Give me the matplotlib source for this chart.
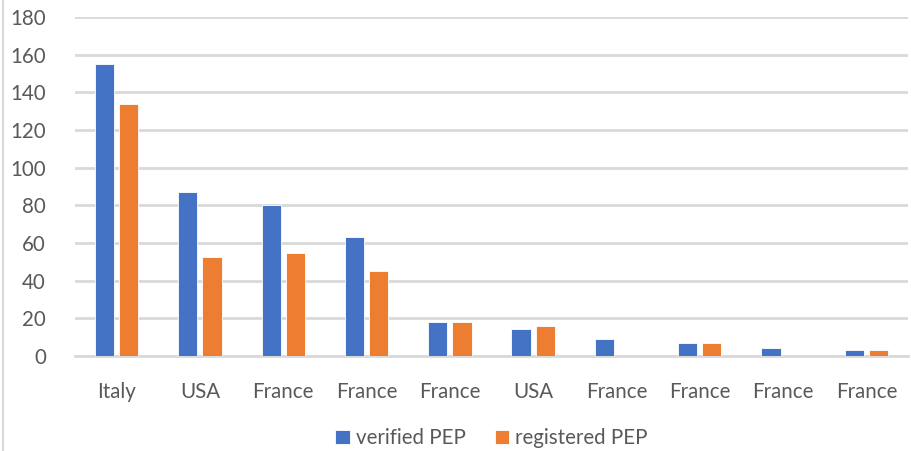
import numpy as np
import matplotlib.pyplot as plt
from matplotlib.lines import Line2D

countries = ["Italy", "USA", "France", "France", "France", "USA", "France", "France", "France", "France"]
verified = [155, 87, 80, 63, 18, 14.5, 9, 7, 4, 3]
registered = [134, 52.5, 54.5, 45, 18, 16, 0, 7, 0, 3]

blue = "#4472C4"
orange = "#ED7D31"
grid = "#D9D9D9"
txt = "#595959"

plt.rcParams['font.family'] = ['Lato', 'DejaVu Sans']
fs = 14.8

fig = plt.figure(figsize=(9.12, 4.51), dpi=100)
ax = fig.add_axes([75/912, 1-356/451, 833/912, 339/451])

x = np.arange(len(countries))
w = 0.23
ax.bar(x - 0.145, verified, w, color=blue, edgecolor="white", linewidth=0.6, label="verified PEP", zorder=3)
ax.bar(x + 0.145, registered, w, color=orange, edgecolor="white", linewidth=0.6, label="registered PEP", zorder=3)

ax.set_xlim(-0.5, len(countries) - 0.5)
ax.set_ylim(0, 180)
ax.set_yticks(range(0, 181, 20))
ax.set_xticks(x)
ax.set_xticklabels(countries)
ax.yaxis.grid(True, color=grid, linewidth=2)
ax.set_axisbelow(True)
for s in ["top", "right", "left"]:
    ax.spines[s].set_visible(False)
ax.spines["bottom"].set_color(grid)
ax.spines["bottom"].set_linewidth(2)
ax.tick_params(axis="y", length=0, pad=21, labelsize=fs, labelcolor=txt)
ax.tick_params(axis="x", length=0, pad=19, labelsize=fs, labelcolor=txt)

ax.legend(loc="center", bbox_to_anchor=(0.5, (1 - 438/451 - (1 - 356/451)) / (339/451)),
          ncol=2, frameon=False, fontsize=fs, labelcolor=txt,
          handlelength=0.7, handleheight=0.7, handletextpad=0.3, columnspacing=1.4)

fig.add_artist(Line2D([3/912, 3/912], [0, 1], color=grid, linewidth=1.5))

fig.savefig("out.png", dpi=100)
